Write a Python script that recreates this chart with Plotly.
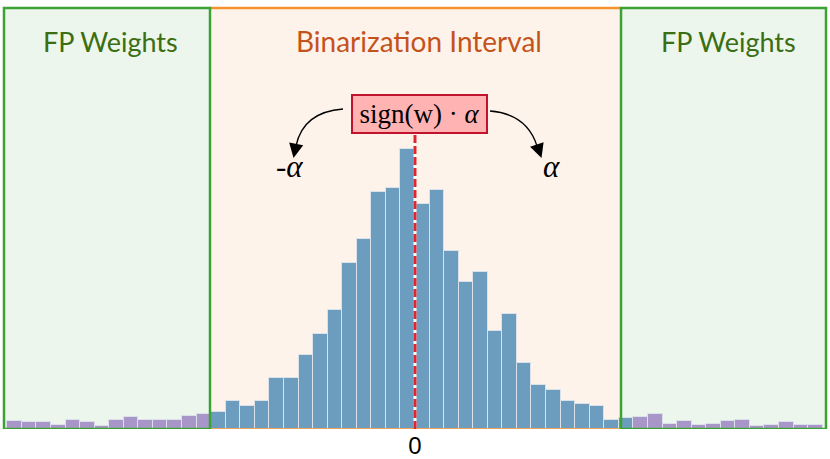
import plotly.graph_objects as go

# histogram of weights, one bar per bin (bins in units of bin width, 0 = zero weight)
bin_centers = [i + 0.5 for i in range(-28, 28)]
counts = [6, 5, 5, 3, 7, 5, 2, 7, 9, 7, 7, 7, 10, 11,
          13, 21, 17, 21, 38, 38, 55, 71, 89, 124, 142, 177, 180, 209,
          168, 178, 133, 110, 117, 73, 86, 49, 33, 29, 21, 19, 17, 7,
          8, 9, 11, 4, 6, 3, 4, 6, 7, 2, 3, 5, 3, 3]
tick_vals = [0]
tick_text = ["0"]

# binarization interval edges (bins) and which bins are drawn as binarized
interval_lo, interval_hi = -14.08, 14.15
BLUE = "#6c9dbe"
PURPLE = "#a996c8"
bar_colors = [BLUE if -14 < c < 15 else PURPLE for c in bin_centers]

# pixel -> data helpers (bin width 14.56 px, one count 1.34 px)
def X(px):
    return (px - 415) / 14.56

def Y(py):
    return (429 - py) / 1.34

fig = go.Figure()
fig.add_trace(go.Bar(
    x=bin_centers, y=counts, width=1,
    marker=dict(color=bar_colors, line=dict(color="#dae1e8", width=1)),
    hoverinfo="skip",
))

GREEN = "#3ca235"
ORANGE = "#f5922f"
left_edge, right_edge = X(4), X(826)
top = Y(8)

# panel fills
fig.add_shape(type="rect", x0=left_edge, x1=interval_lo, y0=0, y1=top,
              fillcolor="#edf6ec", line_width=0, layer="below")
fig.add_shape(type="rect", x0=interval_lo, x1=interval_hi, y0=0, y1=top,
              fillcolor="#fef3ea", line_width=0, layer="below")
fig.add_shape(type="rect", x0=interval_hi, x1=right_edge, y0=0, y1=top,
              fillcolor="#edf6ec", line_width=0, layer="below")

# borders on top of the bars
fig.add_shape(type="line", x0=interval_lo, x1=interval_hi, y0=top, y1=top,
              line=dict(color=ORANGE, width=2.5))
fig.add_shape(type="line", x0=interval_lo, x1=interval_hi, y0=0, y1=0,
              line=dict(color=ORANGE, width=1.5))
for x0, x1 in [(left_edge, interval_lo), (interval_hi, right_edge)]:
    fig.add_shape(type="rect", x0=x0, x1=x1, y0=0, y1=top,
                  line=dict(color=GREEN, width=2.5), fillcolor="rgba(0,0,0,0)")

# zero line (white under red dashes)
fig.add_shape(type="line", x0=0, x1=0, y0=0, y1=Y(120),
              line=dict(color="white", width=3))
fig.add_shape(type="line", x0=0, x1=0, y0=0, y1=Y(120),
              line=dict(color="#e0262d", width=3, dash="8px,3px"))

# curved arrows
def curve(p0, c, p1):
    return "M {},{} Q {},{} {},{}".format(X(p0[0]), Y(p0[1]), X(c[0]), Y(c[1]),
                                         X(p1[0]), Y(p1[1]))

fig.add_shape(type="path", path=curve((343, 109), (303, 112), (296, 146)),
              line=dict(color="black", width=1.3))
fig.add_shape(type="path", path=curve((490, 111), (527, 114), (537, 146)),
              line=dict(color="black", width=1.3))
for tip, base in [((293.5, 158), (296, 145)), ((541.5, 158), (537, 145))]:
    fig.add_annotation(x=X(tip[0]), y=Y(tip[1]), ax=X(base[0]), ay=Y(base[1]),
                       xref="x", yref="y", axref="x", ayref="y", text="",
                       showarrow=True, arrowhead=2, arrowsize=2.2,
                       arrowwidth=1.3, arrowcolor="black", standoff=0)

# formula box
fig.add_annotation(x=X(419.5), y=Y(113.5), text="sign(w) · <i>α</i>",
                   showarrow=False, font=dict(family="Liberation Serif", size=27, color="black"),
                   bgcolor="#ffb3b3", bordercolor="#c1122e", borderwidth=2,
                   borderpad=2, width=129, height=32)
fig.add_annotation(x=X(289), y=Y(166), text="-<i>α</i>", showarrow=False,
                   font=dict(family="Liberation Serif", size=31, color="black"))
fig.add_annotation(x=X(551), y=Y(166), text="<i>α</i>", showarrow=False,
                   font=dict(family="Liberation Serif", size=31, color="black"))

# panel titles
title_font = "Lato"
fig.add_annotation(x=X(110), y=Y(41), text="FP Weights", showarrow=False,
                   font=dict(family=title_font, size=27, color="#3a6e12"))
fig.add_annotation(x=X(419), y=Y(41), text="Binarization Interval", showarrow=False,
                   font=dict(family=title_font, size=28, color="#c4531b"))
fig.add_annotation(x=X(728), y=Y(41), text="FP Weights", showarrow=False,
                   font=dict(family=title_font, size=27, color="#3a6e12"))

fig.update_layout(
    width=830, height=459,
    margin=dict(l=2, r=2, t=6, b=30),
    paper_bgcolor="white", plot_bgcolor="white",
    showlegend=False, bargap=0,
    xaxis=dict(range=[X(2), X(828)], tickvals=tick_vals, ticktext=tick_text,
               showgrid=False, zeroline=False, ticks="", showline=False,
               automargin=False, ticklabelstandoff=0,
               tickfont=dict(family="Liberation Sans", size=24, color="black")),
    yaxis=dict(range=[0, Y(6)], showgrid=False, zeroline=False,
               showticklabels=False, ticks="", automargin=False),
)

fig.write_html("out.html", config={"displayModeBar": False},
               post_script="document.body.style.margin='0';")
